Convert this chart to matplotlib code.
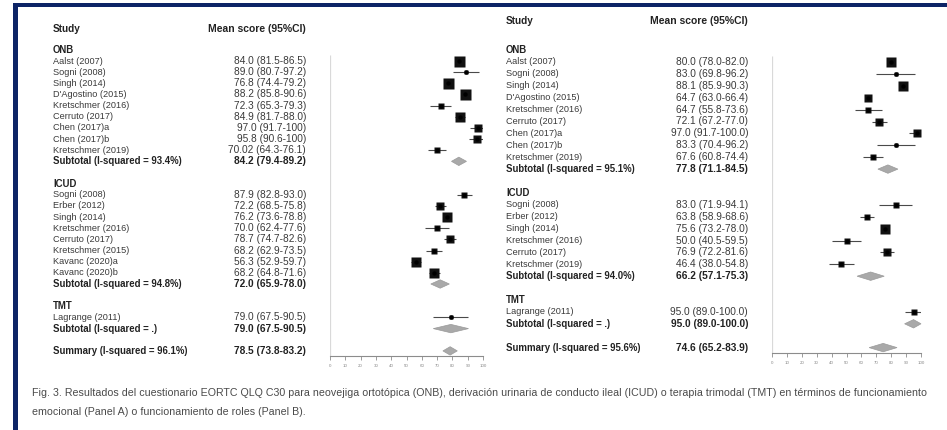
import re
import matplotlib.pyplot as plt
import matplotlib.transforms as mtransforms
from matplotlib.patches import Rectangle, Polygon

plt.rcParams['font.family'] = ['Liberation Sans', 'DejaVu Sans']

W, H = 947, 430

# Panel A: emotional functioning
a_onb_study = ['Aalst (2007)', 'Sogni (2008)', 'Singh (2014)', "D'Agostino (2015)",
               'Kretschmer (2016)', 'Cerruto (2017)', 'Chen (2017)a', 'Chen (2017)b',
               'Kretschmer (2019)']
a_onb_ci = ['84.0 (81.5-86.5)', '89.0 (80.7-97.2)', '76.8 (74.4-79.2)', '88.2 (85.8-90.6)',
            '72.3 (65.3-79.3)', '84.9 (81.7-88.0)', '97.0 (91.7-100)', '95.8 (90.6-100)',
            '70.02 (64.3-76.1)']
a_onb_weight = [16, 3, 16, 16, 4.5, 11, 8, 6.5, 4.5]
a_onb_sub = ('93.4%', '84.2 (79.4-89.2)')

a_icud_study = ['Sogni (2008)', 'Erber (2012)', 'Singh (2014)', 'Kretschmer (2016)',
                'Cerruto (2017)', 'Kretschmer (2015)', 'Kavanc (2020)a', 'Kavanc (2020)b']
a_icud_ci = ['87.9 (82.8-93.0)', '72.2 (68.5-75.8)', '76.2 (73.6-78.8)', '70.0 (62.4-77.6)',
             '78.7 (74.7-82.6)', '68.2 (62.9-73.5)', '56.3 (52.9-59.7)', '68.2 (64.8-71.6)']
a_icud_weight = [4.5, 9, 14, 3.5, 7, 4.5, 13, 11]
a_icud_sub = ('94.8%', '72.0 (65.9-78.0)')

a_tmt_study = ['Lagrange (2011)']
a_tmt_ci = ['79.0 (67.5-90.5)']
a_tmt_weight = [2]
a_tmt_sub = ('.', '79.0 (67.5-90.5)')

a_summary = ('96.1%', '78.5 (73.8-83.2)')

# Panel B: role functioning
b_onb_study = ['Aalst (2007)', 'Sogni (2008)', 'Singh (2014)', "D'Agostino (2015)",
               'Kretschmer (2016)', 'Cerruto (2017)', 'Chen (2017)a', 'Chen (2017)b',
               'Kretschmer (2019)']
b_onb_ci = ['80.0 (78.0-82.0)', '83.0 (69.8-96.2)', '88.1 (85.9-90.3)', '64.7 (63.0-66.4)',
            '64.7 (55.8-73.6)', '72.1 (67.2-77.0)', '97.0 (91.7-100.0)', '83.3 (70.4-96.2)',
            '67.6 (60.8-74.4)']
b_onb_weight = [14, 2, 14, 7, 3.5, 6.5, 8, 3, 5]
b_onb_sub = ('95.1%', '77.8 (71.1-84.5)')

b_icud_study = ['Sogni (2008)', 'Erber (2012)', 'Singh (2014)', 'Kretschmer (2016)',
                'Cerruto (2017)', 'Kretschmer (2019)']
b_icud_ci = ['83.0 (71.9-94.1)', '63.8 (58.9-68.6)', '75.6 (73.2-78.0)', '50.0 (40.5-59.5)',
             '76.9 (72.2-81.6)', '46.4 (38.0-54.8)']
b_icud_weight = [3.5, 6, 14, 3.5, 6.5, 3.5]
b_icud_sub = ('94.0%', '66.2 (57.1-75.3)')

b_tmt_study = ['Lagrange (2011)']
b_tmt_ci = ['95.0 (89.0-100.0)']
b_tmt_weight = [5]
b_tmt_sub = ('.', '95.0 (89.0-100.0)')

b_summary = ('95.6%', '74.6 (65.2-83.9)')

groups = ['ONB', 'ICUD', 'TMT']
ticks = list(range(0, 101, 10))

caption = ['Fig. 3. Resultados del cuestionario EORTC QLQ C30 para neovejiga ortotópica (ONB), '
           'derivación urinaria de conducto ileal (ICUD) o terapia trimodal (TMT) en términos de funcionamiento',
           'emocional (Panel A) o funcionamiento de roles (Panel B).']


def parse(ci):
    m, lo, hi = re.findall(r'[\d.]+', ci)
    return float(m), float(lo), float(hi)


def draw_panel(fig, blocks, summary, row0, pitch, x0, x100, tleft, tright, head_y, axis_y):
    top, bottom = 8, 378
    ax = fig.add_axes([x0 / W, 1 - bottom / H, (x100 - x0) / W, (bottom - top) / H])
    ax.set_xlim(0, 100)
    ax.set_ylim((bottom - row0) / pitch, (top - row0) / pitch)
    tr = mtransforms.blended_transform_factory(fig.transFigure, ax.transData)
    txt = dict(transform=tr, va='center', fontsize=6.6, color='#3a3a3a')
    num = dict(txt, fontsize=7.3)
    bold = dict(transform=tr, va='center', fontsize=6.9, color='#222', fontweight='bold')
    bnum = dict(bold, fontsize=7.3)
    half = 4.2 / pitch
    axis_row = (axis_y - row0) / pitch

    ax.text(tleft / W, (head_y - row0) / pitch, 'Study', **dict(bold, fontsize=7.2))
    ax.text(tright / W, (head_y - row0) / pitch, 'Mean score (95%CI)', ha='right',
            **dict(bold, fontsize=7.5))

    def diamond(i, ci, label):
        m, lo, hi = parse(ci)
        ax.add_patch(Polygon([(lo, i), (m, i - half), (hi, i), (m, i + half)],
                             closed=True, fc='#a9a9a9', ec='#9a9a9a', lw=0.5, clip_on=False))
        ax.text(tleft / W, i, label, **bold)
        ax.text(tright / W, i, ci, ha='right', **bnum)

    i = -1
    for name, (study, cis, weight, sub) in zip(groups, blocks):
        ax.text(tleft / W, i, name, **bold)
        i += 1
        for s, ci, w in zip(study, cis, weight):
            m, lo, hi = parse(ci)
            ax.hlines(i, lo, hi, color='#4a4a4a', lw=0.8, zorder=2)
            side = 2.75 * w ** 0.5 * 0.72
            ax.plot(m, i, marker='s', ms=side, color='#111', mec='none', zorder=3, clip_on=False)
            ax.plot(m, i, marker='o', ms=3.2, color='black', mec='none', zorder=4, clip_on=False)
            ax.text(tleft / W, i, s, **txt)
            ax.text(tright / W, i, ci, ha='right', **num)
            i += 1
        diamond(i, sub[1], f'Subtotal (I-squared = {sub[0]})')
        i += 2
    diamond(i, summary[1], f'Summary (I-squared = {summary[0]})')

    ax.vlines(0, -0.5, axis_row, color='#d9d9d9', lw=0.9, zorder=1)
    for side in ['top', 'right', 'left']:
        ax.spines[side].set_visible(False)
    ax.spines['bottom'].set_position(('data', axis_row))
    ax.spines['bottom'].set_bounds(0, 100)
    ax.spines['bottom'].set_color('#8c8c8c')
    ax.spines['bottom'].set_linewidth(0.8)
    ax.set_xticks(ticks)
    ax.set_yticks([])
    ax.tick_params(axis='x', length=3, width=0.6, color='#8c8c8c', labelsize=3.2,
                   labelcolor='#888', pad=3)
    ax.patch.set_alpha(0)
    return ax


fig = plt.figure(figsize=(W / 100, H / 100), dpi=100)

draw_panel(fig,
           [(a_onb_study, a_onb_ci, a_onb_weight, a_onb_sub),
            (a_icud_study, a_icud_ci, a_icud_weight, a_icud_sub),
            (a_tmt_study, a_tmt_ci, a_tmt_weight, a_tmt_sub)],
           a_summary, row0=61, pitch=11.15, x0=330, x100=483, tleft=53, tright=306,
           head_y=29, axis_y=356)

draw_panel(fig,
           [(b_onb_study, b_onb_ci, b_onb_weight, b_onb_sub),
            (b_icud_study, b_icud_ci, b_icud_weight, b_icud_sub),
            (b_tmt_study, b_tmt_ci, b_tmt_weight, b_tmt_sub)],
           b_summary, row0=62, pitch=11.9, x0=772, x100=921, tleft=506, tright=748,
           head_y=21, axis_y=353)

# caption under the two panels
fig.text(32 / W, 1 - 393 / H, caption[0], fontsize=7.7, color='#4a4a4a', va='center')
fig.text(32 / W, 1 - 412 / H, caption[1], fontsize=7.7, color='#4a4a4a', va='center')

# navy frame along the top and left edges
navy = '#0d2466'
fig.add_artist(Rectangle((13 / W, 0), 5 / W, 1 - 3 / H, transform=fig.transFigure,
                         color=navy, lw=0))
fig.add_artist(Rectangle((13 / W, 1 - 7 / H), 1 - 13 / W, 4 / H, transform=fig.transFigure,
                         color=navy, lw=0))

fig.savefig('out.png', dpi=100)
